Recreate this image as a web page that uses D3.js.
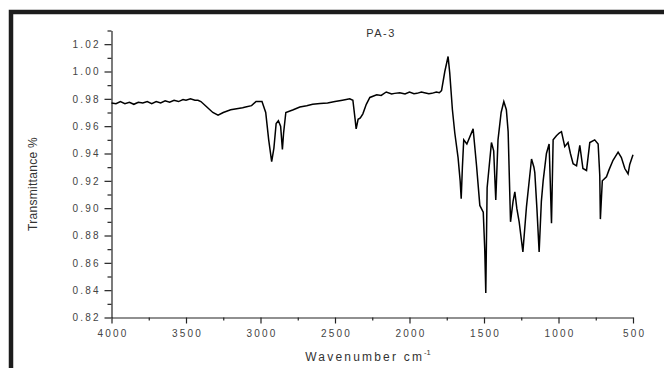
<!DOCTYPE html>
<html>
<head>
<meta charset="utf-8">
<script src="https://cdn.jsdelivr.net/npm/d3@7"></script>
<style>
  body { margin: 0; background: #fff; }
  svg { display: block; }
  text { font-family: "Liberation Sans", Arial, sans-serif; }
</style>
</head>
<body>
<script>
// spectrum: wavenumber (cm-1) and transmittance
const wavenumbers = [4000, 3970, 3940, 3910, 3880, 3850, 3820, 3790, 3760, 3730, 3700, 3670, 3640, 3610, 3580, 3550, 3520, 3500, 3470, 3440, 3420, 3400, 3360, 3320, 3285, 3250, 3200, 3150, 3120, 3100, 3060, 3030, 2990, 2965, 2945, 2925, 2910, 2895, 2880, 2865, 2853, 2845, 2830, 2780, 2736, 2690, 2650, 2600, 2550, 2500, 2450, 2401, 2380, 2365, 2358, 2345, 2330, 2313, 2290, 2266, 2220, 2190, 2156, 2120, 2100, 2065, 2030, 2000, 1970, 1950, 1920, 1900, 1870, 1850, 1820, 1800, 1785, 1763, 1741, 1730, 1712, 1696, 1674, 1660, 1653, 1645, 1636, 1615, 1573, 1550, 1528, 1505, 1495, 1488, 1479, 1450, 1435, 1421, 1406, 1385, 1367, 1350, 1338, 1322, 1305, 1293, 1280, 1264, 1239, 1215, 1181, 1165, 1159, 1145, 1130, 1115, 1103, 1081, 1063, 1047, 1036, 1014, 995, 980, 958, 936, 920, 902, 879, 857, 836, 812, 790, 757, 734, 723, 719, 706, 678, 661, 634, 600, 578, 555, 533, 522, 500];
const transmittance = [0.977, 0.9765, 0.978, 0.9765, 0.9775, 0.976, 0.9775, 0.977, 0.978, 0.9765, 0.978, 0.977, 0.9785, 0.9775, 0.979, 0.978, 0.9795, 0.979, 0.980, 0.979, 0.979, 0.978, 0.974, 0.970, 0.968, 0.970, 0.972, 0.973, 0.9735, 0.974, 0.975, 0.978, 0.978, 0.970, 0.950, 0.934, 0.944, 0.962, 0.964, 0.960, 0.943, 0.955, 0.970, 0.972, 0.974, 0.975, 0.976, 0.9765, 0.977, 0.978, 0.979, 0.980, 0.979, 0.965, 0.958, 0.965, 0.966, 0.969, 0.976, 0.981, 0.983, 0.9825, 0.985, 0.9835, 0.984, 0.9845, 0.9835, 0.985, 0.9838, 0.984, 0.985, 0.9845, 0.9838, 0.984, 0.985, 0.9845, 0.986, 1.000, 1.011, 0.999, 0.972, 0.955, 0.937, 0.920, 0.907, 0.930, 0.950, 0.947, 0.958, 0.931, 0.902, 0.897, 0.870, 0.838, 0.915, 0.948, 0.942, 0.906, 0.950, 0.970, 0.978, 0.972, 0.956, 0.890, 0.905, 0.912, 0.900, 0.890, 0.868, 0.901, 0.936, 0.930, 0.926, 0.900, 0.868, 0.905, 0.920, 0.940, 0.947, 0.889, 0.950, 0.953, 0.955, 0.956, 0.945, 0.948, 0.940, 0.9325, 0.931, 0.946, 0.929, 0.9276, 0.948, 0.950, 0.947, 0.924, 0.892, 0.920, 0.923, 0.928, 0.935, 0.941, 0.937, 0.929, 0.925, 0.932, 0.939];

const xMajor = [4000, 3500, 3000, 2500, 2000, 1500, 1000, 500];
const xMinor = [3750, 3250, 2750, 2250, 1750, 1250, 750];
const yMajor = [0.82, 0.84, 0.86, 0.88, 0.90, 0.92, 0.94, 0.96, 0.98, 1.00, 1.02];
const yMinor = [0.83, 0.85, 0.87, 0.89, 0.91, 0.93, 0.95, 0.97, 0.99, 1.01, 1.03];

const width = 664, height = 368;

const x = d3.scaleLinear().domain([4000, 500]).range([111.5, 633]);
const y = d3.scaleLinear().domain([0.82, 1.03]).range([317.5, 30.5]);

const svg = d3.select("body").append("svg")
    .attr("width", width)
    .attr("height", height);

svg.append("rect").attr("width", width).attr("height", height).attr("fill", "#fff");

// dark frame on the left and top (picture is cropped)
svg.append("path")
    .attr("d", `M11,${height} V12 H${width}`)
    .attr("fill", "none")
    .attr("stroke", "#1c1c1c")
    .attr("stroke-width", 4.5);

// minor ticks first, then the labelled axes
svg.append("g")
    .attr("transform", `translate(0,${y(0.82)})`)
    .call(d3.axisBottom(x).tickValues(xMinor).tickSize(3).tickFormat(""))
    .call(g => g.select(".domain").remove());

svg.append("g")
    .attr("transform", `translate(${x(4000)},0)`)
    .call(d3.axisLeft(y).tickValues(yMinor).tickSize(4).tickFormat(""))
    .call(g => g.select(".domain").remove());

const xAxis = svg.append("g")
    .attr("transform", `translate(0,${y(0.82)})`)
    .call(d3.axisBottom(x).tickValues(xMajor).tickSize(6).tickSizeOuter(0).tickPadding(6).tickFormat(d3.format("d")));

const yAxis = svg.append("g")
    .attr("transform", `translate(${x(4000)},0)`)
    .call(d3.axisLeft(y).tickValues(yMajor).tickSize(7).tickSizeOuter(0).tickPadding(6).tickFormat(d3.format(".2f")));

svg.selectAll(".tick line").attr("stroke", "#222").attr("stroke-width", 1.2);
svg.selectAll(".domain").attr("stroke", "#222").attr("stroke-width", 1.2);
svg.selectAll(".tick text")
    .attr("font-family", "Liberation Sans, Arial, sans-serif")
    .attr("font-size", 10)
    .attr("letter-spacing", 2.2)
    .attr("fill", "#444");
// trailing letter spacing shifts the centred labels; pull them back
xAxis.selectAll(".tick text").attr("dx", 1.1);
yAxis.selectAll(".tick text").attr("dx", 2.2);

// spectrum
const pts = wavenumbers.map((w, i) => [w, transmittance[i]]);
svg.append("path")
    .datum(pts)
    .attr("fill", "none")
    .attr("stroke", "#000")
    .attr("stroke-width", 1.5)
    .attr("d", d3.line().x(d => x(d[0])).y(d => y(d[1])));

// title and axis labels
svg.append("text")
    .attr("x", 381).attr("y", 37)
    .attr("text-anchor", "middle")
    .attr("font-size", 11)
    .attr("letter-spacing", 1.5)
    .attr("fill", "#333")
    .text("PA-3");

const xl = svg.append("text")
    .attr("x", 368).attr("y", 361)
    .attr("text-anchor", "middle")
    .attr("font-size", 12)
    .attr("letter-spacing", 2.2)
    .attr("fill", "#333");
xl.append("tspan").text("Wavenumber cm");
xl.append("tspan").attr("dy", -6).attr("font-size", 7.5).attr("letter-spacing", 0).text("-1");

svg.append("text")
    .attr("transform", "translate(37,184) rotate(-90)")
    .attr("text-anchor", "middle")
    .attr("font-size", 12)
    .attr("letter-spacing", 0.3)
    .attr("fill", "#333")
    .text("Transmittance %");
</script>
</body>
</html>
